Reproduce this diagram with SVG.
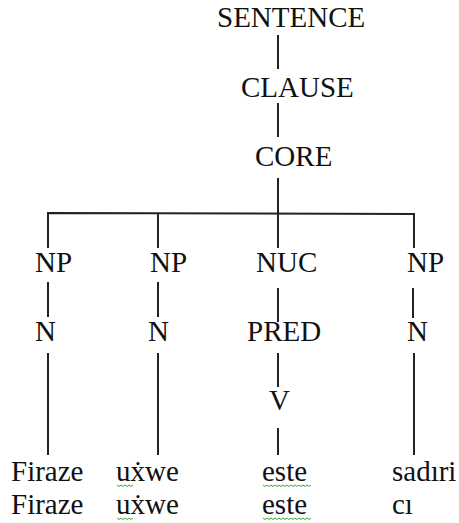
<svg xmlns="http://www.w3.org/2000/svg" width="459" height="523" viewBox="0 0 459 523">
<style>
text{font-size:29px;fill:#111}
.c{stroke:#222;stroke-width:2;fill:none}
.sq{stroke:#3aa83a;stroke-width:1;fill:none}
</style>
<rect width="459" height="523" fill="#fff"/>
<g id="connectors">
<line class="c" x1="278" y1="35" x2="278" y2="69"/>
<line class="c" x1="278" y1="103" x2="278" y2="137"/>
<line class="c" x1="278" y1="178" x2="278" y2="214"/>
<polyline class="c" points="48,248 48,213 414,214 414,248"/>
<line class="c" x1="158" y1="213" x2="158" y2="248"/>
<line class="c" x1="278" y1="213" x2="278" y2="248"/>
<line class="c" x1="48" y1="282" x2="48" y2="317"/>
<line class="c" x1="158" y1="282" x2="158" y2="317"/>
<line class="c" x1="278" y1="288" x2="278" y2="322"/>
<line class="c" x1="413" y1="288" x2="413" y2="318"/>
<line class="c" x1="48" y1="353" x2="48" y2="455"/>
<line class="c" x1="158" y1="353" x2="158" y2="455"/>
<line class="c" x1="278" y1="353" x2="278" y2="387"/>
<line class="c" x1="278" y1="428" x2="278" y2="455"/>
<line class="c" x1="414" y1="353" x2="414" y2="455"/>
</g>
<g font-family="Liberation Serif, serif">
<g id="sentence"><text x="217" y="27">SENTENCE</text></g>
<g id="clause"><text x="241" y="97">CLAUSE</text></g>
<g id="core"><text x="255" y="166">CORE</text></g>
<g id="np1"><text x="35" y="272">NP</text></g>
<g id="np2"><text x="150" y="272">NP</text></g>
<g id="nuc"><text x="256" y="272">NUC</text></g>
<g id="np4"><text x="407" y="272">NP</text></g>
<g id="n1"><text x="35" y="341">N</text></g>
<g id="n2"><text x="148" y="341">N</text></g>
<g id="pred"><text x="247" y="341">PRED</text></g>
<g id="n4"><text x="407" y="341">N</text></g>
<g id="v"><text x="269" y="410">V</text></g>
<g id="w1"><text x="11" y="481">Firaze</text><text x="11" y="514">Firaze</text></g>
<g id="w2"><text x="116" y="481">uẋwe</text><text x="116" y="514">uẋwe</text>
<path class="sq" d="M117,485 l2,1.5 l2,-1.5 l2,1.5 l2,-1.5 l2,1.5 l2,-1.5 l2,1.5 l2,-1.5"/>
<path class="sq" d="M117,518 l2,1.5 l2,-1.5 l2,1.5 l2,-1.5 l2,1.5 l2,-1.5 l2,1.5 l2,-1.5"/>
</g>
<g id="w3"><text x="262" y="481">este</text><text x="262" y="514">este</text>
<path class="sq" d="M263,485 l2,1.5 l2,-1.5 l2,1.5 l2,-1.5 l2,1.5 l2,-1.5 l2,1.5 l2,-1.5 l2,1.5 l2,-1.5 l2,1.5 l2,-1.5 l2,1.5 l2,-1.5 l2,1.5 l2,-1.5 l2,1.5 l2,-1.5 l2,1.5 l2,-1.5 l2,1.5 l2,-1.5 l2,1.5 l2,-1.5"/>
<path class="sq" d="M263,518 l2,1.5 l2,-1.5 l2,1.5 l2,-1.5 l2,1.5 l2,-1.5 l2,1.5 l2,-1.5 l2,1.5 l2,-1.5 l2,1.5 l2,-1.5 l2,1.5 l2,-1.5 l2,1.5 l2,-1.5 l2,1.5 l2,-1.5 l2,1.5 l2,-1.5 l2,1.5 l2,-1.5 l2,1.5 l2,-1.5"/>
</g>
<g id="w4"><text x="392" y="481">sadıri</text><text x="392" y="514">cı</text></g>
</g>
</svg>
